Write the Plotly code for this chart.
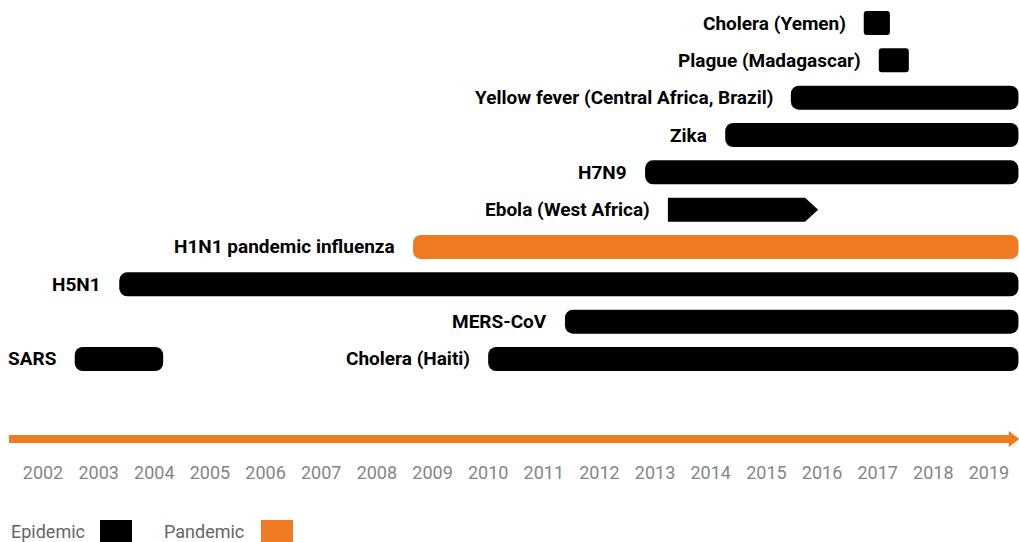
import plotly.graph_objects as go

# ---- data ----
diseases = ["Cholera (Yemen)", "Plague (Madagascar)", "Yellow fever (Central Africa, Brazil)",
            "Zika", "H7N9", "Ebola (West Africa)", "H1N1 pandemic influenza", "H5N1",
            "MERS-CoV", "SARS", "Cholera (Haiti)"]
rows = [9, 8, 7, 6, 5, 4, 3, 2, 1, 0, 0]
starts = [2017.25, 2017.52, 2015.94, 2014.76, 2013.32, 2013.73, 2009.15, 2003.87, 2011.88, 2003.07, 2010.50]
ends = [2017.72, 2018.06, 2020.03, 2020.03, 2020.03, 2016.43, 2020.03, 2020.03, 2020.03, 2004.66, 2020.03]
kinds = ["Epidemic", "Epidemic", "Epidemic", "Epidemic", "Epidemic", "Epidemic", "Pandemic",
         "Epidemic", "Epidemic", "Epidemic", "Epidemic"]
years = list(range(2002, 2020))
legend_items = ["Epidemic", "Pandemic"]

# ---- style ----
COLORS = {"Epidemic": "#000000", "Pandemic": "#F07A22"}
ORANGE = "#F07A22"
FONT = "Roboto"
W, H = 1019, 542
X0, X1 = 2001.727, 2020.04
Y0, Y1 = -4.902, 9.616
BAR_W = 0.643
AXIS_ROW = -2.143

fig = go.Figure()

for name, r, s, e, k in zip(diseases, rows, starts, ends, kinds):
    if name.startswith("Ebola"):
        tip = (e - s) * 0.087
        body = e - tip
        hw = BAR_W / 2
        fig.add_trace(go.Scatter(
            x=[s, body, e, body, s, s], y=[r - hw, r - hw, r, r + hw, r + hw, r - hw],
            fill="toself", fillcolor=COLORS[k], mode="lines",
            line=dict(width=0, color=COLORS[k]), showlegend=False, hoverinfo="skip"))
    else:
        long_bar = (e - s) > 1.5
        fig.add_trace(go.Bar(
            x=[e - s], base=[s], y=[r], orientation="h", width=BAR_W,
            marker=dict(color=COLORS[k], line=dict(width=0), cornerradius=8 if long_bar else 3),
            showlegend=False, hoverinfo="skip"))
    fig.add_annotation(x=s, y=r, text=f"<b>{name}</b>", showarrow=False,
                       xanchor="right", yanchor="middle", xshift=-16,
                       font=dict(family=FONT, size=19, color="#000000"))

# timeline arrow
fig.add_trace(go.Scatter(x=[2001.889, 2019.88], y=[AXIS_ROW, AXIS_ROW], mode="lines",
                         line=dict(color=ORANGE, width=8), showlegend=False,
                         hoverinfo="skip", cliponaxis=False))
fig.add_trace(go.Scatter(x=[2019.92], y=[AXIS_ROW], mode="markers",
                         marker=dict(symbol="triangle-right", size=14, color=ORANGE),
                         showlegend=False, hoverinfo="skip", cliponaxis=False))

# legend (text then square)
leg_text_x = [9, 162]
leg_box_x = [100, 261]
for item, tx, bx in zip(legend_items, leg_text_x, leg_box_x):
    fig.add_annotation(xref="paper", yref="paper", x=tx / W, y=1 - 531 / H, text=item,
                       showarrow=False, xanchor="left", yanchor="middle",
                       font=dict(family=FONT, size=18, color="#666666"))
    fig.add_shape(type="rect", xref="paper", yref="paper", x0=bx / W, x1=(bx + 32) / W,
                  y0=1 - 570 / H, y1=1 - 520 / H, fillcolor=COLORS[item],
                  line=dict(width=0), layer="above")

fig.update_layout(
    width=W, height=H, margin=dict(l=0, r=0, t=0, b=0),
    paper_bgcolor="white", plot_bgcolor="white", barmode="overlay",
    xaxis=dict(range=[X0, X1], showgrid=False, zeroline=False, showline=False,
               tickmode="array", tickvals=[y + 0.5 for y in years], ticktext=[str(y) for y in years],
               ticks="", anchor="free", position=1 - 460 / H,
               tickfont=dict(family=FONT, size=18, color="#858585")),
    yaxis=dict(range=[Y0, Y1], showgrid=False, zeroline=False, showline=False,
               showticklabels=False, ticks=""),
)

fig.write_html("out.html", config={"displayModeBar": False},
               post_script="document.body.style.margin='0';document.body.style.overflow='hidden';"
                           "document.documentElement.style.overflow='hidden';")
